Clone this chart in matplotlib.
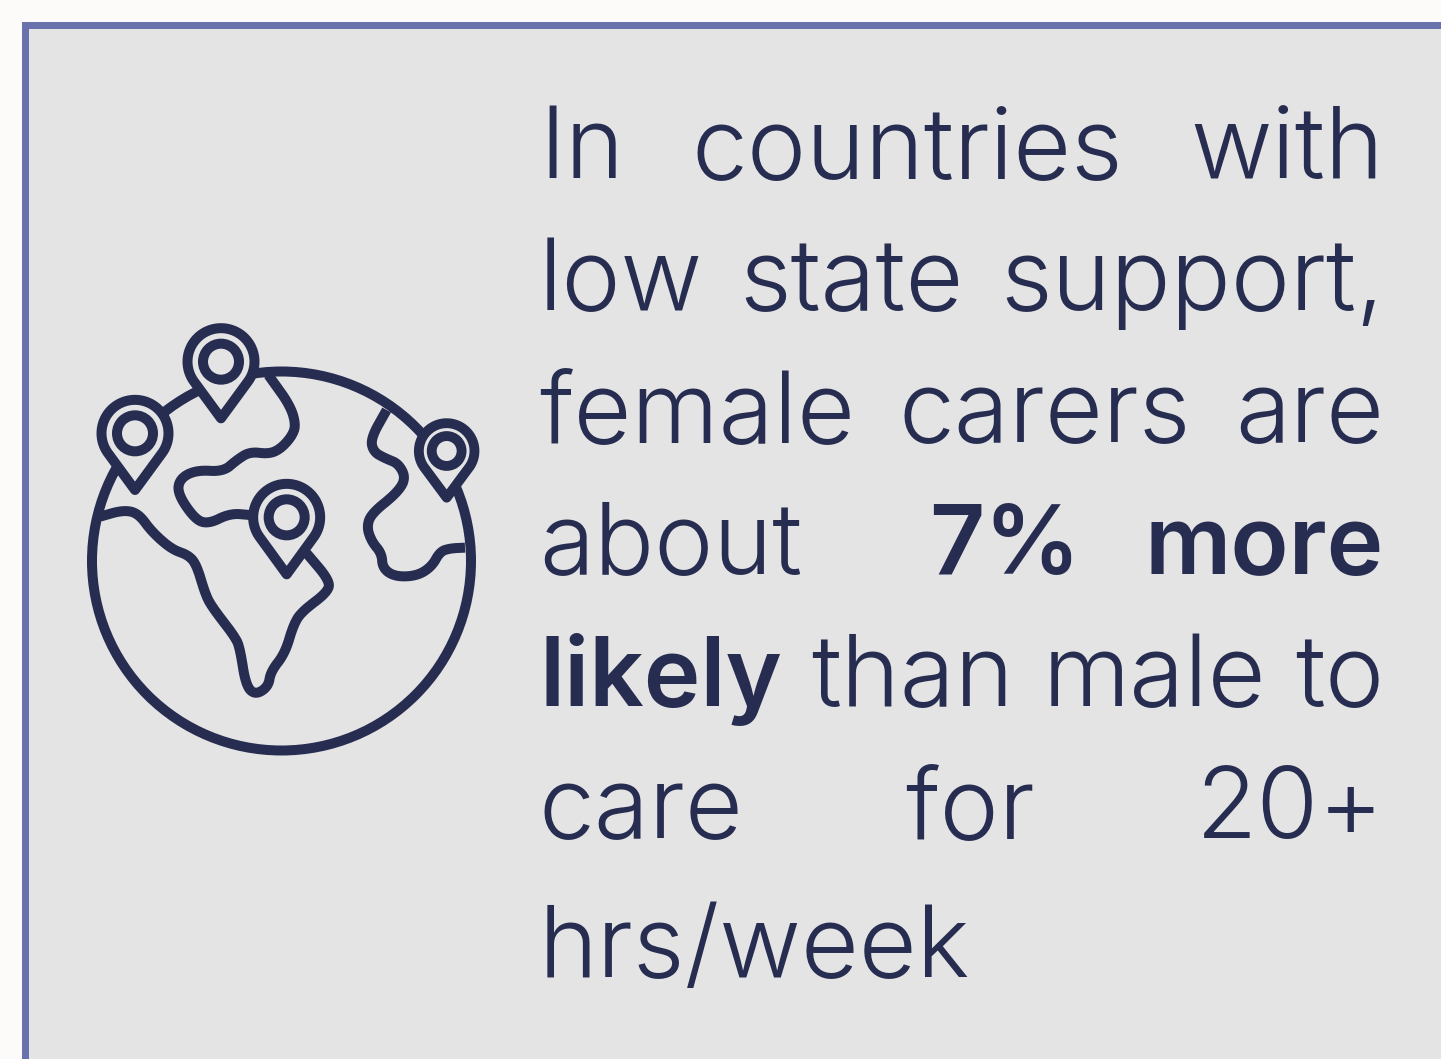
import matplotlib
matplotlib.use("Agg")
import matplotlib.pyplot as plt
from matplotlib.patches import Circle, PathPatch, Rectangle
from matplotlib.path import Path
import numpy as np

lines = [
    ["In", "countries", "with"],
    ["low", "state", "support,"],
    ["female", "carers", "are"],
    ["about", "", "7%", "more"],
    ["likely", "than", "male", "to"],
    ["care", "for", "20+"],
    ["hrs/week"],
]
bold_words = ["7%", "more", "likely"]
baselines = [178, 310, 442, 574, 706, 838, 977]

land_left = [(60, 620), (130, 600), (175, 610), (215, 665), (275, 718), (325, 735), (350, 765), (375, 850),
             (395, 890), (465, 980), (480, 1015), (497, 1125), (525, 1155), (565, 1130), (572, 1085), (615, 1030),
             (640, 945), (665, 905), (745, 845), (748, 810), (680, 730)]
land_mid = [(565, 195), (630, 285), (648, 345), (635, 380), (600, 418), (565, 432), (510, 425), (470, 450),
            (430, 485), (350, 480), (300, 505), (292, 550), (345, 628), (385, 642), (450, 610), (510, 615)]
land_right = [(920, 300), (872, 385), (880, 425), (915, 445), (955, 460), (978, 505), (950, 550),
              (875, 610), (860, 650), (875, 695), (905, 730), (908, 775), (945, 800), (1010, 798),
              (1055, 770), (1080, 725), (1110, 715), (1155, 713)]
# head x, head y, tip y, scale
pins = [(165, 370, 540, 1.0), (423, 155, 325, 1.0), (620, 622, 793, 1.0), (1100, 423, 563, 0.83)]

NAVY = "#272D50"
BG = "#E4E4E5"
LW = 10 * 72 / 100


def zx(v):
    return 80 + v / 3


def zy(v):
    return 310 + v / 3


def chaikin(pts, n=3):
    pts = np.array(pts, float)
    for _ in range(n):
        q = 0.75 * pts[:-1] + 0.25 * pts[1:]
        r = 0.25 * pts[:-1] + 0.75 * pts[1:]
        mid = np.empty((2 * len(q), 2))
        mid[0::2] = q
        mid[1::2] = r
        pts = np.vstack([pts[0], mid, pts[-1]])
    return pts


def draw_pin(ax, hx, hy, ty, s):
    cx, cy, tip = zx(hx), zy(hy), zy(ty)
    r = 33.5 * s
    a = np.radians(np.linspace(-35, 215, 60))
    xs = cx + r * np.cos(a)
    ys = cy + r * np.sin(-a)
    verts = list(zip(xs, ys)) + [(cx, tip), (xs[0], ys[0])]
    codes = [Path.MOVETO] + [Path.LINETO] * (len(verts) - 2) + [Path.CLOSEPOLY]
    ax.add_patch(PathPatch(Path(verts, codes), fc=BG, ec=NAVY, lw=LW * (0.9 + 0.1 * s), joinstyle="round", zorder=4))
    ax.add_patch(Circle((cx, cy), 18 * s, fc="none", ec=NAVY, lw=LW * (0.9 + 0.1 * s), zorder=5))


fig = plt.figure(figsize=(14.41, 10.59), dpi=100, facecolor="#FCFBF9")
ax = fig.add_axes([0, 0, 1, 1])
ax.set_xlim(0, 1441)
ax.set_ylim(1059, 0)
ax.axis("off")

ax.add_patch(Rectangle((25, 25), 1500, 1100, fc=BG, ec="#6A72AE", lw=7 * 72 / 100))

ax.add_patch(Circle((281.5, 561), 189.5, fc="none", ec=NAVY, lw=LW, zorder=2))
for land in (land_left, land_mid, land_right):
    p = chaikin(land)
    ax.plot(zx(p[:, 0]), zy(p[:, 1]), color=NAVY, lw=LW, solid_capstyle="butt", solid_joinstyle="round", zorder=3)
for hx, hy, ty, s in pins:
    draw_pin(ax, hx, hy, ty, s)

fig.canvas.draw()
renderer = fig.canvas.get_renderer()
left, right = 539, 1384
for words, base in zip(lines, baselines):
    texts = []
    for w in words:
        bold = w in bold_words
        texts.append(ax.text(left, base, w, family="Inter", weight=600 if bold else 300,
                             fontsize=69 if bold else 72, color=NAVY, ha="left", va="baseline"))
    widths = [t.get_window_extent(renderer).width if t.get_text() else 0 for t in texts]
    gap = (right - left - sum(widths)) / (len(words) - 1) if len(words) > 1 else 0
    x = left
    for t, wd in zip(texts, widths):
        t.set_x(x)
        x += wd + gap

fig.savefig("out.png", dpi=100, facecolor=fig.get_facecolor())
